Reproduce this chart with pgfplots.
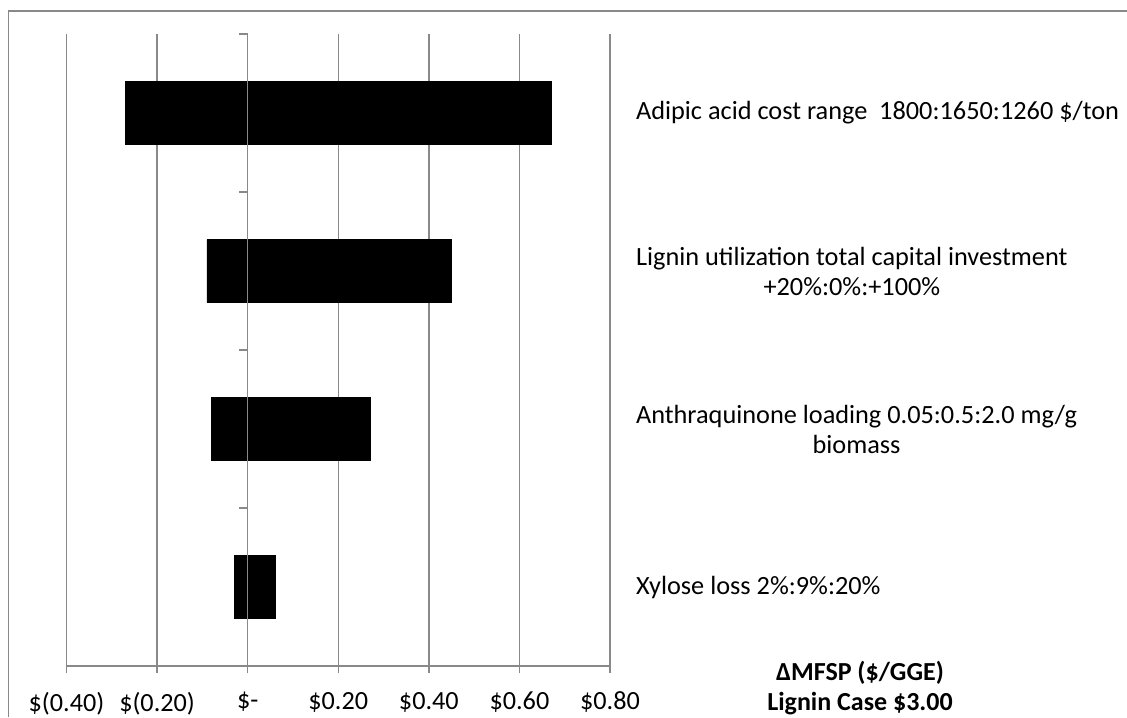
\documentclass[border=0pt]{standalone}
\usepackage{fontspec}
\setmainfont{Carlito}
\usepackage{pgfplots}
\pgfplotsset{compat=1.18}
\definecolor{gridgray}{HTML}{898989}

\begin{document}
\begin{tikzpicture}
% canvas: 1px = 0.5pt (1127 x 717)
\useasboundingbox (0,0) rectangle (563.5pt,358.5pt);
\draw[gridgray, line width=0.7pt] (4.3pt,0) -- (4.3pt,353pt) -- (563.5pt,353pt);

\begin{axis}[
  at={(33.25pt,25.5pt)}, anchor=south west,
  scale only axis, width=271.75pt, height=316pt,
  xmin=-0.4, xmax=0.8, ymin=0.5, ymax=4.5,
  xbar, bar width=0.4, bar shift=0pt,
  axis x line*=bottom, axis y line*=right,
  y axis line style={draw=none},
  x axis line style={gridgray, line width=0.7pt},
  xtick={-0.4,-0.2,0,0.2,0.4,0.6,0.8},
  xticklabels={\$(0.40),\$(0.20),\$-,\$0.20,\$0.40,\$0.60,\$0.80},
  xtick align=outside, major tick length=3.5pt,
  x tick style={gridgray, line width=0.7pt},
  xmajorgrids, grid style={gridgray, line width=0.7pt},
  xticklabel style={font=\fontsize{13.1}{15}\selectfont, yshift=-6pt},
  ytick={1,2,3,4},
  yticklabels={Xylose loss 2\%:9\%:20\%,
    {Anthraquinone loading 0.05:0.5:2.0 mg/g\\biomass},
    {Lignin utilization total capital investment\\+20\%:0\%:+100\%},
    Adipic acid cost range\ \ 1800:1650:1260 \$/ton},
  y tick style={draw=none},
  yticklabel style={font=\fontsize{13.15}{15}\selectfont, anchor=west, align=center, xshift=6pt},
  clip=false,
]
  % low side
  \addplot[fill=black, draw=black, line width=0.3pt] coordinates {
    (-0.03,1) (-0.08,2) (-0.09,3) (-0.27,4)
  };
  % high side
  \addplot[fill=black, draw=black, line width=0.3pt] coordinates {
    (0.06,1) (0.27,2) (0.45,3) (0.67,4)
  };
  % vertical axis at zero with category ticks
  \draw[gridgray, line width=0.7pt] (axis cs:0,0.5) -- (axis cs:0,4.5);
  \pgfplotsinvokeforeach{0.5,1.5,2.5,3.5,4.5}{
    \draw[gridgray, line width=0.7pt] (axis cs:0,#1) -- ([xshift=-4.5pt]axis cs:0,#1);
  }
  \node[font=\bfseries\fontsize{13}{15}\selectfont, align=center]
    at (rel axis cs:1.46,-0.035) {ΔMFSP (\$/GGE)\\Lignin Case \$3.00};
\end{axis}
\end{tikzpicture}
\end{document}
